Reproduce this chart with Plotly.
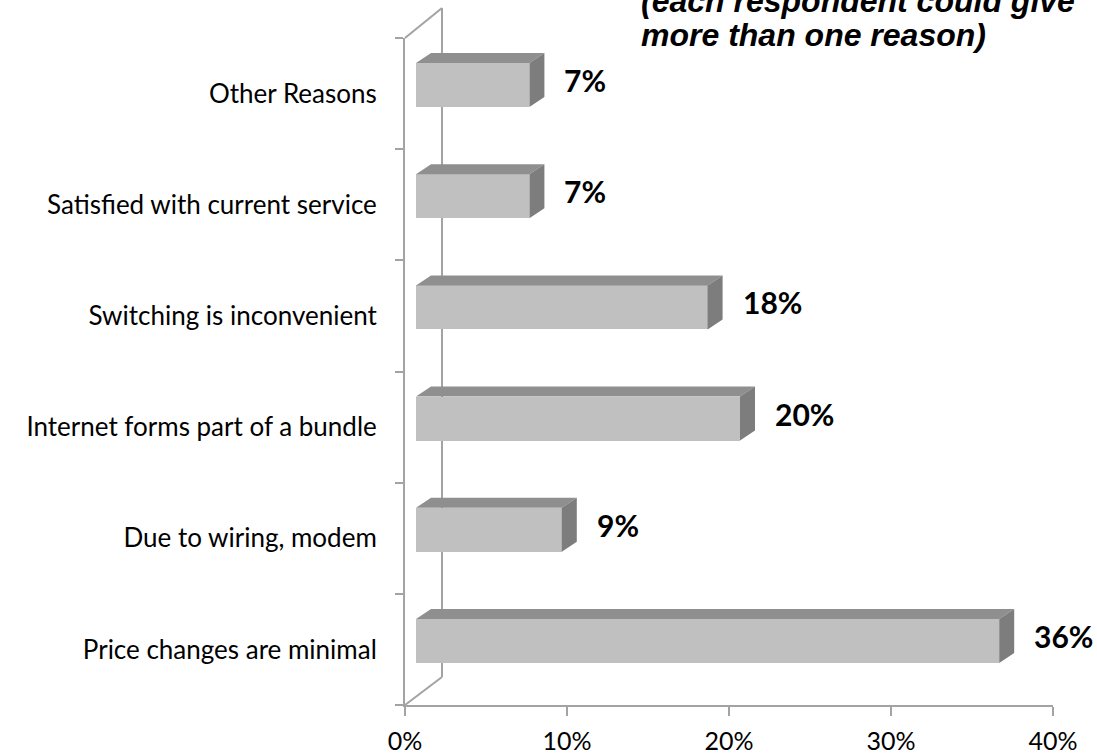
import plotly.graph_objects as go

# Reasons for staying with the current internet provider (bottom to top)
categories = [
    "Price changes are minimal",
    "Due to wiring, modem",
    "Internet forms part of a bundle",
    "Switching is inconvenient",
    "Satisfied with current service",
    "Other Reasons",
]
values = [36, 9, 20, 18, 7, 7]
x_ticks = [0, 10, 20, 30, 40]
x_tick_labels = ["0%", "10%", "20%", "30%", "40%"]
note_lines = ["(each respondent could give", "more than one reason)"]

# figure geometry
W, H = 1097, 755
M_L, M_R, M_T, M_B = 405, 44, 38, 50
PLOT_W = W - M_L - M_R
PLOT_H = H - M_T - M_B
X_MAX = 40
PX_PER_X = PLOT_W / X_MAX
PX_PER_Y = PLOT_H / len(categories)

# pseudo-3D depth (front face inset, extrusion of top/side faces)
FACE_DX = 11 / PX_PER_X
FACE_DY = 8.5 / PX_PER_Y
EXT_DX = 15 / PX_PER_X
EXT_DY = 10 / PX_PER_Y
BAR_W = 44 / PX_PER_Y

# back wall position in paper units
WALL_X = 37 / PLOT_W
WALL_TOP = 1 + 30 / PLOT_H
WALL_BOT = 28 / PLOT_H

FRONT = "#c0c0c0"
TOP = "#8f8f8f"
SIDE = "#7d7d7d"
AXIS = "#a3a3a3"

positions = list(range(len(categories)))

fig = go.Figure()

# front faces
fig.add_trace(go.Bar(
    y=positions, x=values, base=FACE_DX, orientation="h",
    width=BAR_W, offset=-BAR_W / 2 + FACE_DY,
    marker=dict(color=FRONT, line=dict(width=0)),
    hoverinfo="skip",
))

# top and side faces
top_x, top_y, side_x, side_y = [], [], [], []
for p, v in zip(positions, values):
    y0 = p - BAR_W / 2 + FACE_DY
    y1 = y0 + BAR_W
    x0 = FACE_DX
    x1 = FACE_DX + v
    top_x += [x0, x1, x1 + EXT_DX, x0 + EXT_DX, x0, None]
    top_y += [y1, y1, y1 + EXT_DY, y1 + EXT_DY, y1, None]
    side_x += [x1, x1 + EXT_DX, x1 + EXT_DX, x1, x1, None]
    side_y += [y0, y0 + EXT_DY, y1 + EXT_DY, y1, y0, None]

fig.add_trace(go.Scatter(x=top_x, y=top_y, fill="toself", fillcolor=TOP,
                         mode="lines", line=dict(width=0), hoverinfo="skip"))
fig.add_trace(go.Scatter(x=side_x, y=side_y, fill="toself", fillcolor=SIDE,
                         mode="lines", line=dict(width=0), hoverinfo="skip"))

# value labels
for p, v in zip(positions, values):
    fig.add_annotation(
        x=FACE_DX + v + EXT_DX, y=p + FACE_DY + EXT_DY / 2,
        text=f"<b>{v}%</b>", showarrow=False, xanchor="left", yanchor="middle",
        xshift=18, font=dict(family="Lato", size=30, color="#000000"),
    )

# back wall and depth edges
line_style = dict(color=AXIS, width=2)
for x0, y0, x1, y1 in [
    (WALL_X, WALL_BOT, WALL_X, WALL_TOP),
    (0, 1, WALL_X, WALL_TOP),
    (0, 0, WALL_X, WALL_BOT),
]:
    fig.add_shape(type="line", xref="paper", yref="paper",
                  x0=x0, y0=y0, x1=x1, y1=y1, line=line_style, layer="below")

# note in the top right, one annotation per line
NOTE_X = (639 - M_L) / PLOT_W
for line, shift in zip(note_lines, [17, -17]):
    fig.add_annotation(
        x=NOTE_X, xref="paper", y=1, yref="paper", showarrow=False,
        text=f"<b><i>{line}</i></b>", xanchor="left", yanchor="bottom",
        yshift=shift, font=dict(family="Liberation Sans", size=32, color="#000000"),
    )

fig.update_layout(
    width=W, height=H,
    margin=dict(l=M_L, r=M_R, t=M_T, b=M_B, pad=0, autoexpand=False),
    paper_bgcolor="white", plot_bgcolor="white",
    showlegend=False, bargap=0,
    font=dict(family="Lato", color="#000000"),
    xaxis=dict(
        range=[0, X_MAX], tickvals=x_ticks, ticktext=x_tick_labels,
        showgrid=False, zeroline=False, showline=True, linecolor=AXIS, linewidth=2,
        ticks="outside", ticklen=9, tickcolor=AXIS, tickwidth=2, automargin=False,
        tickfont=dict(family="Lato", size=25), ticklabelstandoff=4,
    ),
    yaxis=dict(
        range=[-0.5, len(categories) - 0.5], tickvals=positions, ticktext=categories,
        showgrid=False, zeroline=False, showline=True, linecolor=AXIS, linewidth=2,
        ticks="", tickfont=dict(family="Lato", size=26), ticklabelstandoff=21,
        automargin=False,
        minor=dict(tickvals=[p - 0.5 for p in positions] + [len(categories) - 0.5],
                   ticks="outside", ticklen=8, tickcolor=AXIS, tickwidth=2,
                   showgrid=False),
    ),
)

fig.write_html("out.html")
